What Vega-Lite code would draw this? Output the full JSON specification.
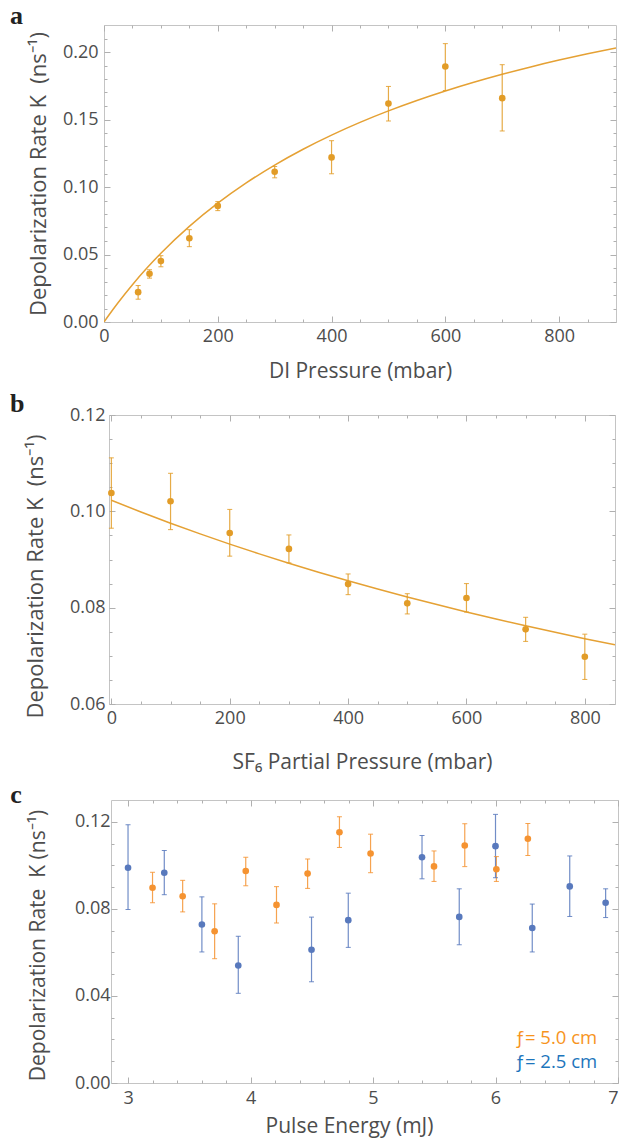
{
  "$schema": "https://vega.github.io/schema/vega-lite/v6.json",
  "background": "white",
  "padding": {"left": 9, "top": 2, "right": 0, "bottom": 0},
  "columns": 1,
  "align": "each",
  "center": true,
  "spacing": 7,
  "config": {
    "view": {"stroke": "#c4c4c4", "strokeWidth": 1},
    "axis": {
      "domain": false, "grid": false, "tickColor": "#b0b0b0", "tickWidth": 1,
      "labelFont": "Open Sans", "labelFontSize": 18, "labelColor": "#4d4d4d",
      "titleFont": "Open Sans", "titleFontWeight": "normal", "titleColor": "#4d4d4d",
      "labelFlush": false, "labelOverlap": false
    },
    "axisX": {"titleFontSize": 21},
    "axisY": {"titleFontSize": 22},
    "title": {"anchor": "start", "frame": "group", "font": "Liberation Serif", "fontSize": 26, "fontWeight": "bold", "color": "#222222"}
  },
  "concat": [
    {
      "width": 512, "height": 297,
      "title": {"text": "a", "dx": -94, "offset": -4},
      "data": {"values": [
        {"p": 60, "k": 0.0221, "lo": 0.0169, "hi": 0.0270},
        {"p": 80, "k": 0.0357, "lo": 0.0325, "hi": 0.0387},
        {"p": 100, "k": 0.0451, "lo": 0.0409, "hi": 0.0491},
        {"p": 150, "k": 0.0620, "lo": 0.0558, "hi": 0.0684},
        {"p": 200, "k": 0.0860, "lo": 0.0825, "hi": 0.0892},
        {"p": 300, "k": 0.1113, "lo": 0.1068, "hi": 0.1152},
        {"p": 400, "k": 0.1219, "lo": 0.1098, "hi": 0.1343},
        {"p": 500, "k": 0.1618, "lo": 0.1489, "hi": 0.1745},
        {"p": 600, "k": 0.1893, "lo": 0.1715, "hi": 0.2062},
        {"p": 700, "k": 0.1658, "lo": 0.1415, "hi": 0.1906}
      ]},
      "resolve": {"axis": {"x": "independent", "y": "independent"}},
      "layer": [
        {
          "data": {"values": [
            {"p": 0, "k": 0}, {"p": 10, "k": 0.00593}, {"p": 25, "k": 0.01444}, {"p": 50, "k": 0.02765},
            {"p": 75, "k": 0.03977}, {"p": 100, "k": 0.05094}, {"p": 150, "k": 0.07085}, {"p": 200, "k": 0.08804},
            {"p": 250, "k": 0.10305}, {"p": 300, "k": 0.11627}, {"p": 350, "k": 0.12799}, {"p": 400, "k": 0.13846},
            {"p": 450, "k": 0.14787}, {"p": 500, "k": 0.15637}, {"p": 550, "k": 0.16409}, {"p": 600, "k": 0.17113},
            {"p": 650, "k": 0.17757}, {"p": 700, "k": 0.1835}, {"p": 750, "k": 0.18896}, {"p": 800, "k": 0.19401},
            {"p": 850, "k": 0.1987}, {"p": 900, "k": 0.20306}
          ]},
          "mark": {"type": "line", "color": "#E5A134", "strokeWidth": 1.5, "interpolate": "monotone", "clip": true},
          "encoding": {
            "x": {"field": "p", "type": "quantitative", "scale": {"domain": [0, 900], "nice": false, "zero": false},
                  "axis": {"orient": "bottom", "values": [0, 200, 400, 600, 800], "tickSize": -6, "labelPadding": 11.6, "title": "DI Pressure (mbar)", "titlePadding": 15, "format": "d"}},
            "y": {"field": "k", "type": "quantitative", "scale": {"domain": [0, 0.22], "nice": false, "zero": false},
                  "axis": {"orient": "left", "values": [0, 0.05, 0.1, 0.15, 0.2], "tickSize": -6, "labelPadding": 12, "format": ".2f", "title": "Depolarization Rate K \u00a0(ns⁻¹)", "titlePadding": 12}}
          }
        },
        {
          "mark": {"type": "rule", "color": "#E29C27", "strokeWidth": 1.2, "opacity": 0.85},
          "encoding": {
            "x": {"field": "p", "type": "quantitative", "axis": {"orient": "bottom", "values": [50, 100, 150, 250, 300, 350, 450, 500, 550, 650, 700, 750, 850], "tickSize": -3, "labels": false, "title": null}},
            "y": {"field": "lo", "type": "quantitative", "axis": {"orient": "left", "values": [0.01, 0.02, 0.03, 0.04, 0.06, 0.07, 0.08, 0.09, 0.11, 0.12, 0.13, 0.14, 0.16, 0.17, 0.18, 0.19, 0.21], "tickSize": -3, "labels": false, "title": null}},
            "y2": {"field": "hi"}
          }
        },
        {
          "mark": {"type": "tick", "orient": "horizontal", "size": 5, "thickness": 1, "color": "#E29C27", "opacity": 0.85},
          "encoding": {
            "x": {"field": "p", "type": "quantitative", "axis": {"orient": "top", "values": [0, 200, 400, 600, 800], "tickSize": -6, "labels": false, "title": null}},
            "y": {"field": "hi", "type": "quantitative", "axis": {"orient": "right", "values": [0, 0.05, 0.1, 0.15, 0.2], "tickSize": -6, "labels": false, "title": " ", "titleFontSize": 6, "titlePadding": 3}}
          }
        },
        {
          "mark": {"type": "tick", "orient": "horizontal", "size": 5, "thickness": 1, "color": "#E29C27", "opacity": 0.85},
          "encoding": {
            "x": {"field": "p", "type": "quantitative", "axis": {"orient": "top", "values": [50, 100, 150, 250, 300, 350, 450, 500, 550, 650, 700, 750, 850], "tickSize": -3, "labels": false, "title": null}},
            "y": {"field": "lo", "type": "quantitative", "axis": {"orient": "right", "values": [0.01, 0.02, 0.03, 0.04, 0.06, 0.07, 0.08, 0.09, 0.11, 0.12, 0.13, 0.14, 0.16, 0.17, 0.18, 0.19, 0.21], "tickSize": -3, "labels": false, "title": null}}
          }
        },
        {
          "mark": {"type": "circle", "size": 44, "opacity": 1, "color": "#E29C27"},
          "encoding": {
            "x": {"field": "p", "type": "quantitative", "axis": null},
            "y": {"field": "k", "type": "quantitative", "axis": null}
          }
        }
      ]
    },
    {
      "width": 506, "height": 289,
      "title": {"text": "b", "dx": -99, "offset": -10.5},
      "data": {"values": [
        {"p": 0, "k": 0.1038, "lo": 0.0965, "hi": 0.1111},
        {"p": 100, "k": 0.1021, "lo": 0.0962, "hi": 0.1079},
        {"p": 200, "k": 0.0955, "lo": 0.0907, "hi": 0.1004},
        {"p": 300, "k": 0.0922, "lo": 0.0893, "hi": 0.0951},
        {"p": 400, "k": 0.0849, "lo": 0.0827, "hi": 0.0870},
        {"p": 500, "k": 0.0809, "lo": 0.0787, "hi": 0.0829},
        {"p": 600, "k": 0.0820, "lo": 0.0791, "hi": 0.0850},
        {"p": 700, "k": 0.0755, "lo": 0.0730, "hi": 0.0780},
        {"p": 800, "k": 0.0698, "lo": 0.0651, "hi": 0.0745}
      ]},
      "resolve": {"axis": {"x": "independent", "y": "independent"}},
      "layer": [
        {
          "data": {"values": [
            {"p": 0, "k": 0.1023}, {"p": 50, "k": 0.09986}, {"p": 100, "k": 0.09754}, {"p": 150, "k": 0.09532},
            {"p": 200, "k": 0.0932}, {"p": 250, "k": 0.09117}, {"p": 300, "k": 0.08923}, {"p": 350, "k": 0.08737},
            {"p": 400, "k": 0.08558}, {"p": 450, "k": 0.08387}, {"p": 500, "k": 0.08222}, {"p": 550, "k": 0.08064},
            {"p": 600, "k": 0.07912}, {"p": 650, "k": 0.07765}, {"p": 700, "k": 0.07624}, {"p": 750, "k": 0.07488},
            {"p": 800, "k": 0.07356}, {"p": 851, "k": 0.07228}
          ]},
          "mark": {"type": "line", "color": "#E5A134", "strokeWidth": 1.5, "interpolate": "monotone", "clip": true},
          "encoding": {
            "x": {"field": "p", "type": "quantitative", "scale": {"domain": [-4, 851], "nice": false, "zero": false},
                  "axis": {"orient": "bottom", "values": [0, 200, 400, 600, 800], "tickSize": -6, "labelPadding": 11.6, "title": "SF₆ Partial Pressure (mbar)", "titlePadding": 24, "format": "d"}},
            "y": {"field": "k", "type": "quantitative", "scale": {"domain": [0.06, 0.12], "nice": false, "zero": false},
                  "axis": {"orient": "left", "values": [0.06, 0.08, 0.1, 0.12], "tickSize": -6, "labelPadding": 10, "format": ".2f", "title": "Depolarization Rate K \u00a0(ns⁻¹)", "titlePadding": 22, "titleY": 161}}
          }
        },
        {
          "mark": {"type": "rule", "color": "#E29C27", "strokeWidth": 1.2, "opacity": 0.85},
          "encoding": {
            "x": {"field": "p", "type": "quantitative", "axis": {"orient": "bottom", "values": [50, 100, 150, 250, 300, 350, 450, 500, 550, 650, 700, 750], "tickSize": -3, "labels": false, "title": null}},
            "y": {"field": "lo", "type": "quantitative", "axis": {"orient": "left", "values": [0.065, 0.07, 0.075, 0.085, 0.09, 0.095, 0.105, 0.11, 0.115], "tickSize": -3, "labels": false, "title": null}},
            "y2": {"field": "hi"}
          }
        },
        {
          "mark": {"type": "tick", "orient": "horizontal", "size": 5, "thickness": 1, "color": "#E29C27", "opacity": 0.85},
          "encoding": {
            "x": {"field": "p", "type": "quantitative", "axis": {"orient": "top", "values": [0, 200, 400, 600, 800], "tickSize": -6, "labels": false, "title": null}},
            "y": {"field": "hi", "type": "quantitative", "axis": {"orient": "right", "values": [0.06, 0.08, 0.1, 0.12], "tickSize": -6, "labels": false, "title": " ", "titleFontSize": 5, "titlePadding": 0}}
          }
        },
        {
          "mark": {"type": "tick", "orient": "horizontal", "size": 5, "thickness": 1, "color": "#E29C27", "opacity": 0.85},
          "encoding": {
            "x": {"field": "p", "type": "quantitative", "axis": {"orient": "top", "values": [50, 100, 150, 250, 300, 350, 450, 500, 550, 650, 700, 750], "tickSize": -3, "labels": false, "title": null}},
            "y": {"field": "lo", "type": "quantitative", "axis": {"orient": "right", "values": [0.065, 0.07, 0.075, 0.085, 0.09, 0.095, 0.105, 0.11, 0.115], "tickSize": -3, "labels": false, "title": null}}
          }
        },
        {
          "mark": {"type": "circle", "size": 44, "opacity": 1, "color": "#E29C27"},
          "encoding": {
            "x": {"field": "p", "type": "quantitative", "axis": null},
            "y": {"field": "k", "type": "quantitative", "axis": null}
          }
        }
      ]
    },
    {
      "width": 507, "height": 283,
      "title": {"text": "c", "dx": -100.75, "offset": -8.5},
      "data": {"values": [
        {"e": 3.2, "k": 0.0897, "lo": 0.0828, "hi": 0.0968, "s": "5.0"},
        {"e": 3.446, "k": 0.0858, "lo": 0.0786, "hi": 0.0931, "s": "5.0"},
        {"e": 3.707, "k": 0.0697, "lo": 0.0571, "hi": 0.0823, "s": "5.0"},
        {"e": 3.961, "k": 0.0974, "lo": 0.0906, "hi": 0.1037, "s": "5.0"},
        {"e": 4.212, "k": 0.0818, "lo": 0.0735, "hi": 0.0902, "s": "5.0"},
        {"e": 4.466, "k": 0.0962, "lo": 0.0894, "hi": 0.1029, "s": "5.0"},
        {"e": 4.726, "k": 0.1152, "lo": 0.1082, "hi": 0.1223, "s": "5.0"},
        {"e": 4.98, "k": 0.1054, "lo": 0.0966, "hi": 0.1143, "s": "5.0"},
        {"e": 5.498, "k": 0.0995, "lo": 0.0926, "hi": 0.1066, "s": "5.0"},
        {"e": 5.749, "k": 0.1091, "lo": 0.0994, "hi": 0.1191, "s": "5.0"},
        {"e": 6.007, "k": 0.0982, "lo": 0.0926, "hi": 0.1040, "s": "5.0"},
        {"e": 6.264, "k": 0.1122, "lo": 0.1045, "hi": 0.1192, "s": "5.0"},
        {"e": 3.0, "k": 0.0989, "lo": 0.0797, "hi": 0.1186, "s": "2.5"},
        {"e": 3.296, "k": 0.0966, "lo": 0.0865, "hi": 0.1068, "s": "2.5"},
        {"e": 3.603, "k": 0.0728, "lo": 0.0602, "hi": 0.0855, "s": "2.5"},
        {"e": 3.9, "k": 0.0540, "lo": 0.0412, "hi": 0.0674, "s": "2.5"},
        {"e": 4.498, "k": 0.0612, "lo": 0.0465, "hi": 0.0762, "s": "2.5"},
        {"e": 4.798, "k": 0.0748, "lo": 0.0623, "hi": 0.0872, "s": "2.5"},
        {"e": 5.4, "k": 0.1037, "lo": 0.0938, "hi": 0.1137, "s": "2.5"},
        {"e": 5.704, "k": 0.0763, "lo": 0.0635, "hi": 0.0892, "s": "2.5"},
        {"e": 6.0, "k": 0.1088, "lo": 0.0943, "hi": 0.1234, "s": "2.5"},
        {"e": 6.3, "k": 0.0712, "lo": 0.0602, "hi": 0.0822, "s": "2.5"},
        {"e": 6.606, "k": 0.0903, "lo": 0.0765, "hi": 0.1043, "s": "2.5"},
        {"e": 6.899, "k": 0.0828, "lo": 0.0760, "hi": 0.0892, "s": "2.5"}
      ]},
      "resolve": {"axis": {"x": "independent", "y": "independent"}},
      "layer": [
        {
          "mark": {"type": "rule", "strokeWidth": 1.2, "opacity": 0.85},
          "encoding": {
            "x": {"field": "e", "type": "quantitative", "scale": {"domain": [2.861, 7], "nice": false, "zero": false},
                  "axis": {"orient": "bottom", "values": [3, 4, 5, 6, 7], "tickSize": -6, "labelPadding": 12.6, "labelFlush": true, "title": "Pulse Energy (mJ)", "titlePadding": 8, "titleX": 238, "format": "d"}},
            "y": {"field": "lo", "type": "quantitative", "scale": {"domain": [0, 0.13], "nice": false, "zero": false},
                  "axis": {"orient": "left", "values": [0, 0.04, 0.08, 0.12], "tickSize": -6, "labelPadding": 7, "format": ".2f", "title": "Depolarization Rate \u00a0K (ns⁻¹)", "titleFontSize": 21, "titlePadding": 26, "titleY": 145}},
            "y2": {"field": "hi"},
            "color": {"field": "s", "type": "nominal", "scale": {"domain": ["5.0", "2.5"], "range": ["#F59331", "#5879BD"]}, "legend": null}
          }
        },
        {
          "mark": {"type": "tick", "orient": "horizontal", "size": 5, "thickness": 1, "opacity": 0.85},
          "encoding": {
            "x": {"field": "e", "type": "quantitative", "axis": {"orient": "bottom", "values": [3.2, 3.4, 3.6, 3.8, 4.2, 4.4, 4.6, 4.8, 5.2, 5.4, 5.6, 5.8, 6.2, 6.4, 6.6, 6.8], "tickSize": -3, "labels": false, "title": null}},
            "y": {"field": "hi", "type": "quantitative", "axis": {"orient": "left", "values": [0.01, 0.02, 0.03, 0.05, 0.06, 0.07, 0.09, 0.1, 0.11], "tickSize": -3, "labels": false, "title": null}},
            "color": {"field": "s", "type": "nominal", "legend": null}
          }
        },
        {
          "mark": {"type": "tick", "orient": "horizontal", "size": 5, "thickness": 1, "opacity": 0.85},
          "encoding": {
            "x": {"field": "e", "type": "quantitative", "axis": {"orient": "top", "values": [3, 4, 5, 6, 7], "tickSize": -6, "labels": false, "title": null}},
            "y": {"field": "lo", "type": "quantitative", "axis": {"orient": "right", "values": [0, 0.04, 0.08, 0.12], "tickSize": -6, "labels": false, "title": null}},
            "color": {"field": "s", "type": "nominal", "legend": null}
          }
        },
        {
          "mark": {"type": "circle", "size": 44, "opacity": 1},
          "encoding": {
            "x": {"field": "e", "type": "quantitative", "axis": {"orient": "top", "values": [3.2, 3.4, 3.6, 3.8, 4.2, 4.4, 4.6, 4.8, 5.2, 5.4, 5.6, 5.8, 6.2, 6.4, 6.6, 6.8], "tickSize": -3, "labels": false, "title": null}},
            "y": {"field": "k", "type": "quantitative", "axis": {"orient": "right", "values": [0.01, 0.02, 0.03, 0.05, 0.06, 0.07, 0.09, 0.1, 0.11], "tickSize": -3, "labels": false, "title": null}},
            "color": {"field": "s", "type": "nominal", "legend": null}
          }
        },
        {
          "data": {"values": [
            {"lx": 6.83, "ly": 0.018, "t": "ƒ= 5.0 cm", "s": "5.0"},
            {"lx": 6.83, "ly": 0.0068, "t": "ƒ= 2.5 cm", "s": "2.5"}
          ]},
          "mark": {"type": "text", "align": "right", "baseline": "alphabetic", "font": "Open Sans", "fontSize": 18.5},
          "encoding": {
            "x": {"field": "lx", "type": "quantitative", "axis": null},
            "y": {"field": "ly", "type": "quantitative", "axis": null},
            "text": {"field": "t"},
            "fill": {"field": "s", "type": "nominal", "scale": {"domain": ["5.0", "2.5"], "range": ["#F7941D", "#1C75BC"]}, "legend": null}
          }
        }
      ]
    }
  ]
}
